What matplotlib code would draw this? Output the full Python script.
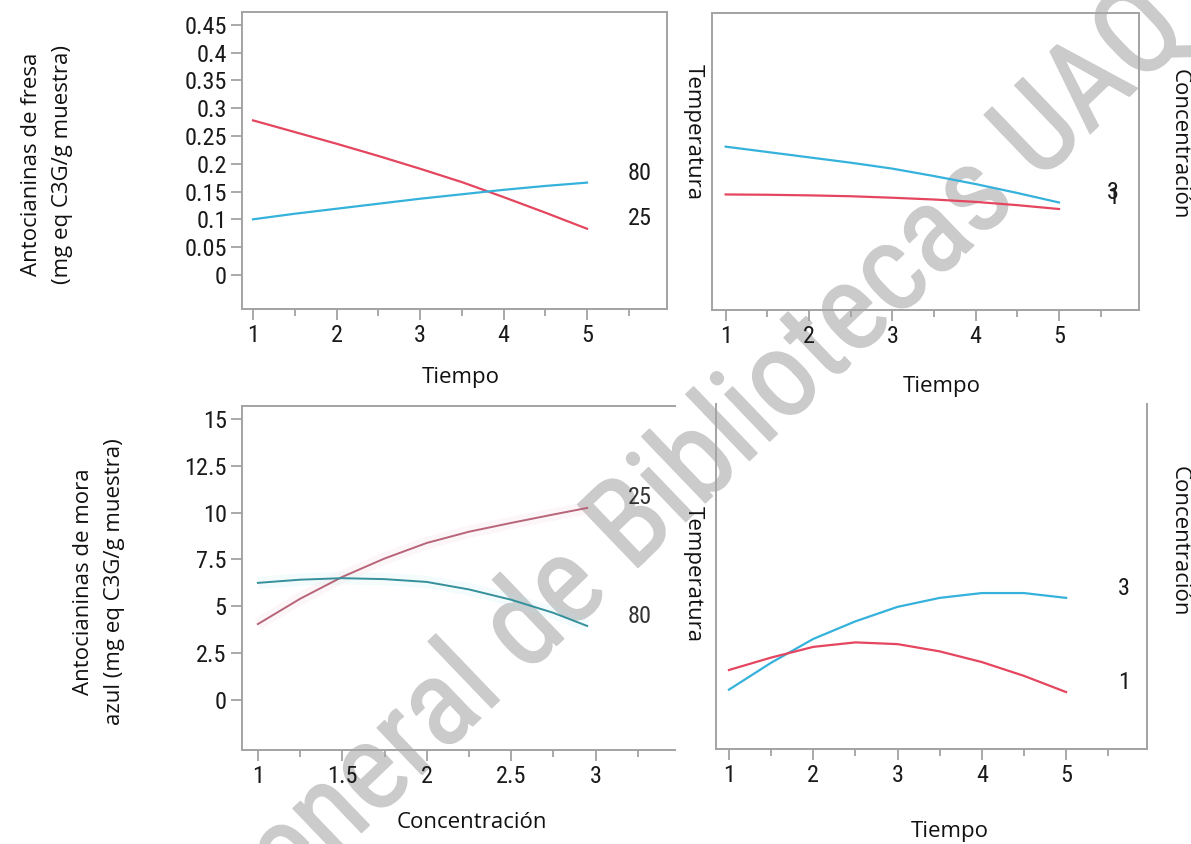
import matplotlib
matplotlib.use("Agg")
import matplotlib.pyplot as plt
from matplotlib import font_manager
from matplotlib import patheffects
from matplotlib.ticker import FixedLocator

# data
tiempo = [1.0, 1.5, 2.0, 2.5, 3.0, 3.5, 4.0, 4.5, 5.0]
conc = [1.0, 1.25, 1.5, 1.75, 2.0, 2.25, 2.5, 2.75, 2.95]

# fresa: antocianinas vs tiempo por temperatura
fresa_t25 = [0.278, 0.257, 0.236, 0.214, 0.191, 0.167, 0.140, 0.112, 0.083]
fresa_t80 = [0.100, 0.110, 0.119, 0.128, 0.137, 0.145, 0.153, 0.160, 0.166]

# fresa: interaccion tiempo x concentracion (sin escala)
fresa_c3 = [0.550, 0.532, 0.514, 0.496, 0.476, 0.451, 0.424, 0.394, 0.362]
fresa_c1 = [0.389, 0.388, 0.386, 0.383, 0.378, 0.372, 0.364, 0.353, 0.340]

# mora azul: antocianinas vs concentracion por temperatura
mora_t25 = [4.05, 5.40, 6.57, 7.55, 8.38, 8.98, 9.45, 9.90, 10.25]
mora_t80 = [6.25, 6.42, 6.50, 6.45, 6.30, 5.90, 5.35, 4.65, 3.95]

# mora azul: interaccion tiempo x concentracion (sin escala)
mora_c3 = [0.172, 0.250, 0.319, 0.370, 0.412, 0.438, 0.452, 0.452, 0.438]
mora_c1 = [0.229, 0.265, 0.296, 0.309, 0.304, 0.283, 0.252, 0.212, 0.165]

fresa_yticks = [0, 0.05, 0.1, 0.15, 0.2, 0.25, 0.3, 0.35, 0.4, 0.45]
fresa_ylabels = ["0", "0.05", "0.1", "0.15", "0.2", "0.25", "0.3", "0.35", "0.4", "0.45"]
mora_yticks = [0, 2.5, 5, 7.5, 10, 12.5, 15]
mora_ylabels = ["0", "2.5", "5", "7.5", "10", "12.5", "15"]

RED = "#e5465f"
BLUE = "#35b2dc"
RED_M = "#b86479"
BLUE_M = "#34909a"
GRAY = "#a3a3a3"
WM_GRAY = "#cbcbcb"
LABEL_FONT = ["Open Sans", "DejaVu Sans"]
TICK_SIZE = 17.5

# condensed digits like the original (JMP) tick labels
NARROW_FP = font_manager.FontProperties(family="DejaVu Sans", stretch="condensed")
for fam in ["Liberation Sans Narrow", "Roboto Condensed"]:
    try:
        font_manager.findfont(font_manager.FontProperties(family=fam), fallback_to_default=False)
        NARROW_FP = font_manager.FontProperties(family=fam)
        break
    except ValueError:
        pass

W, H = 1191, 844
fig = plt.figure(figsize=(W / 100, H / 100), dpi=100)


def narrow(size=TICK_SIZE):
    fp = NARROW_FP.copy()
    fp.set_size(size)
    return fp


def style_ticks(ax):
    for lab in ax.get_xticklabels() + ax.get_yticklabels():
        lab.set_fontproperties(narrow())
        lab.set_color("#1a1a1a")


def px_axes(left, top, right, bottom):
    ax = fig.add_axes([left / W, 1 - bottom / H, (right - left) / W, (bottom - top) / H])
    ax.set_facecolor("none")
    for s in ax.spines.values():
        s.set_color(GRAY)
        s.set_linewidth(1.4)
    ax.tick_params(which="both", direction="out", color=GRAY, width=1.3)
    ax.tick_params(which="major", length=8, pad=3)
    ax.tick_params(which="minor", length=5)
    return ax


def fig_text(x, y, s, **kw):
    kw.setdefault("fontsize", 16)
    kw.setdefault("family", LABEL_FONT)
    kw.setdefault("color", "#111111")
    fig.text(x / W, 1 - y / H, s, ha="center", va="center", **kw)


def end_label(ax, x, y, s, color="#1a1a1a"):
    ax.text(x, y, s, fontproperties=narrow(), color=color, ha="center", va="center")


def time_axis(ax):
    ax.xaxis.set_major_locator(FixedLocator([1, 2, 3, 4, 5]))
    ax.xaxis.set_minor_locator(FixedLocator([1.5, 2.5, 3.5, 4.5, 5.5]))
    ax.set_xticklabels(["1", "2", "3", "4", "5"])


# top left
ax1 = px_axes(242, 12, 667, 309)
ax1.plot(tiempo, fresa_t25, color=RED, lw=1.6)
ax1.plot(tiempo, fresa_t80, color=BLUE, lw=1.6)
ax1.set_xlim(0.868, 5.958)
ax1.set_ylim(-0.0614, 0.473)
time_axis(ax1)
ax1.set_yticks(fresa_yticks)
ax1.set_yticklabels(fresa_ylabels)
style_ticks(ax1)
end_label(ax1, 5.63, 0.183, "80")
end_label(ax1, 5.63, 0.101, "25")

# top right
ax2 = px_axes(712, 13, 1139, 310)
ax2.plot(tiempo, fresa_c3, color=BLUE, lw=1.6)
ax2.plot(tiempo, fresa_c1, color=RED, lw=1.6)
ax2.set_xlim(0.836, 5.96)
ax2.set_ylim(0, 1)
time_axis(ax2)
ax2.set_yticks([])
style_ticks(ax2)
end_label(ax2, 5.65, 0.394, "3")
end_label(ax2, 5.65, 0.380, "1")

# bottom left (faint halo like the blurry original)
ax3 = px_axes(242, 406, 675, 750)
ax3.spines["right"].set_visible(False)
ax3.plot(conc, mora_t25, color="#f2b8c6", lw=9, alpha=0.12, solid_capstyle="butt")
ax3.plot(conc, mora_t80, color="#a6e6ee", lw=9, alpha=0.12, solid_capstyle="butt")
ax3.plot(conc, mora_t25, color=RED_M, lw=1.4)
ax3.plot(conc, mora_t80, color=BLUE_M, lw=1.4)
ax3.set_xlim(0.906, 3.47)
ax3.set_ylim(-2.67, 15.69)
ax3.xaxis.set_major_locator(FixedLocator([1, 1.5, 2, 2.5, 3]))
ax3.xaxis.set_minor_locator(FixedLocator([1.25, 1.75, 2.25, 2.75, 3.25]))
ax3.set_xticklabels(["1", "1.5", "2", "2.5", "3"])
ax3.set_yticks(mora_yticks)
ax3.set_yticklabels(mora_ylabels)
style_ticks(ax3)
end_label(ax3, 3.26, 10.78, "25", color="#333333")
end_label(ax3, 3.26, 4.45, "80", color="#333333")

# bottom right
ax4 = px_axes(716, 404, 1147, 749)
ax4.spines["top"].set_visible(False)
ax4.plot(tiempo, mora_c3, color=BLUE, lw=1.6)
ax4.plot(tiempo, mora_c1, color=RED, lw=1.6)
ax4.set_xlim(0.846, 5.96)
ax4.set_ylim(0, 1)
time_axis(ax4)
ax4.set_yticks([])
style_ticks(ax4)
end_label(ax4, 5.69, 0.464, "3")
end_label(ax4, 5.69, 0.194, "1")

# axis titles
fig_text(47, 164, "Antocianinas de fresa\n(mg eq C3G/g muestra)", rotation=90, linespacing=1.6)
fig_text(99, 582, "Antocianinas de mora\nazul (mg eq C3G/g muestra)", rotation=90, linespacing=1.6)
fig_text(461, 377, "Tiempo")
fig_text(942, 387, "Tiempo")
fig_text(472, 822, "Concentración")
fig_text(950, 831, "Tiempo")
fig_text(693, 132, "Temperatura", rotation=270)
fig_text(693, 574, "Temperatura", rotation=270)
fig_text(1179, 144, "Concentración", rotation=270)
fig_text(1179, 541, "Concentración", rotation=270)

# library watermark
fig.text(1192 / W, 1 - 36 / H, "Dirección General de Bibliotecas UAQ",
         fontsize=88, family=["Roboto Condensed", "Roboto", "DejaVu Sans"],
         color=WM_GRAY, rotation=43.8, rotation_mode="anchor",
         ha="right", va="baseline", zorder=-1,
         path_effects=[patheffects.withStroke(linewidth=1.2, foreground=WM_GRAY)])

fig.savefig("out.png", dpi=100)
